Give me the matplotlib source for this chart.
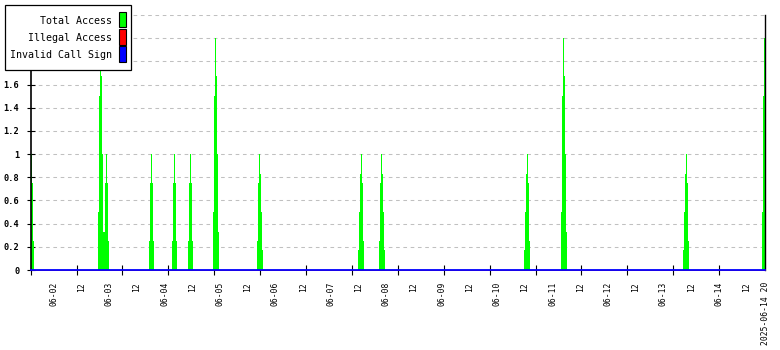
#!/usr/bin/env python3
"""Access counts over two weeks, RRD-style chart."""
import matplotlib
matplotlib.use('Agg')
import matplotlib.pyplot as plt
import matplotlib.dates as mdates
import matplotlib.patches as mpatches
import numpy as np
import pandas as pd

MONO = 'DejaVu Sans Mono'

# ---- data ----
t_start = pd.Timestamp("2025-06-01 14:00")
t_end = pd.Timestamp("2025-06-14 20:00")
step_minutes = 26

# start time of each burst of "Total Access" and its stepped values
event_starts = [
    "2025-06-01 14:08", "2025-06-02 19:00", "2025-06-03 17:12", "2025-06-04 03:12",
    "2025-06-04 10:06", "2025-06-04 21:00", "2025-06-05 16:00", "2025-06-07 11:42",
    "2025-06-07 20:48", "2025-06-10 11:36", "2025-06-11 03:42", "2025-06-13 08:30",
    "2025-06-14 18:42",
]
event_values = [
    [1.0, 0.75, 0.25],
    [0.5, 1.5, 2.0, 1.67, 1.0, 0.33, 0.33, 0.75, 1.0, 0.75, 0.25],
    [0.25, 0.75, 1.0, 0.75, 0.25],
    [0.25, 0.75, 1.0, 0.75, 0.25],
    [0.25, 0.75, 1.0, 0.75, 0.25],
    [0.5, 1.5, 2.0, 1.67, 1.0, 0.33],
    [0.25, 0.75, 1.0, 0.83, 0.5, 0.17],
    [0.17, 0.5, 0.83, 1.0, 0.75, 0.25],
    [0.25, 0.75, 1.0, 0.83, 0.5, 0.17],
    [0.17, 0.5, 0.83, 1.0, 0.75, 0.25],
    [0.5, 1.5, 2.0, 1.67, 1.0, 0.33],
    [0.17, 0.5, 0.83, 1.0, 0.75, 0.25],
    [0.5, 1.5, 2.0],
]
illegal_access = [0, 0]
invalid_call_sign = [0, 0]

series_names = ['Total Access', 'Illegal Access', 'Invalid Call Sign']
series_colors = ['#00ff00', '#ff0000', '#0000ff']

y_ticks = [0, 0.2, 0.4, 0.6, 0.8, 1.0, 1.2, 1.4, 1.6, 1.8, 2.0, 2.2]
y_labels = ['0', '0.2', '0.4', '0.6', '0.8', '1', '1.2', '1.4', '1.6', '', '', '']  # top ones sit under the legend

# ---- figure ----
W, H = 780, 350
fig = plt.figure(figsize=(W / 100, H / 100), dpi=100)
ax = fig.add_axes([30.7 / W, 1 - 270 / H, (765 - 30.7) / W, (270 - 15) / H])

step = pd.Timedelta(minutes=step_minutes)
for start, vals in zip(event_starts, event_values):
    t0 = pd.Timestamp(start)
    edges = [mdates.date2num(t0 + i * step) for i in range(len(vals) + 1)]
    ax.stairs(vals, edges, fill=True, color=series_colors[0], linewidth=0, zorder=2)

span = [mdates.date2num(t_start), mdates.date2num(t_end)]
ax.plot(span, illegal_access, color=series_colors[1], linewidth=0.6, zorder=3, clip_on=False)
ax.plot(span, invalid_call_sign, color=series_colors[2], linewidth=1.3, zorder=4, clip_on=False)

ax.set_xlim(span)
ax.set_ylim(0, 2.2)

# y axis
ax.set_yticks(y_ticks)
ax.set_yticklabels(y_labels, family=MONO, fontsize=6.2, fontweight='bold')
ax.tick_params(axis='y', direction='inout', length=5.8, width=0.8, pad=5.2)
ax.yaxis.grid(True, color='#c0c0c0', linestyle=(0, (3.5, 3.5)), linewidth=0.75)
ax.set_axisbelow(True)

# x axis: evenly spaced tick marks, date labels on their own positions
ax.set_xticks(np.linspace(span[0], span[1], 17)[:-1])
ax.set_xticklabels([])
ax.tick_params(axis='x', which='major', direction='inout', length=6.5, width=0.8)

label_times = list(pd.date_range("2025-06-02 00:00", "2025-06-14 12:00", freq='12h')) + [t_end]
label_text = []
for t in label_times:
    if t == t_end:
        label_text.append(t.strftime('%Y-%m-%d %H'))
    elif t.hour == 0:
        label_text.append(t.strftime('%m-%d'))
    else:
        label_text.append(t.strftime('%H'))
ax.set_xticks([mdates.date2num(t) for t in label_times], minor=True)
ax.set_xticklabels(label_text, minor=True, rotation=90, family=MONO, fontsize=5.8)
ax.tick_params(axis='x', which='minor', length=0, pad=8.6)

for s in ['top', 'bottom']:
    ax.spines[s].set_visible(False)
ax.spines['left'].set_linewidth(1.2)
ax.spines['right'].set_linewidth(1.0)

# ---- legend box (drawn on the figure, covers the top of the axis) ----
def px(x, y):
    return x / W, 1 - y / H

x0, y0 = px(5, 70)
fig.add_artist(mpatches.Rectangle((x0, y0), 126 / W, 65 / H, transform=fig.transFigure,
                                  facecolor='white', edgecolor='black', linewidth=0.9, zorder=5))
for i, (name, col) in enumerate(zip(series_names, series_colors)):
    cy = 19.5 + i * 17.2
    sx, sy = px(119, cy + 7.8)
    fig.add_artist(mpatches.Rectangle((sx, sy), 6.7 / W, 15.6 / H, transform=fig.transFigure,
                                      facecolor=col, edgecolor='black', linewidth=0.8, zorder=6))
    tx, ty = px(112, cy + 1)
    fig.text(tx, ty, name, ha='right', va='center', family=MONO, fontsize=7.2, zorder=6)

plt.savefig('out.png', dpi=100)
